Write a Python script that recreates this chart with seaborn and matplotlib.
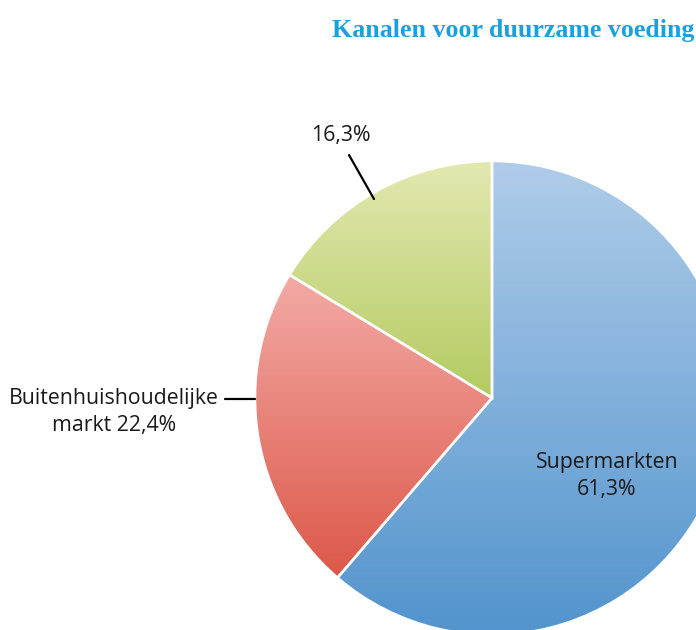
"""Pie chart: Kanalen voor duurzame voeding."""
import numpy as np
import seaborn as sns
from matplotlib import pyplot as plt

labels = ['Supermarkten\n61,3%', 'Buitenhuishoudelijke\nmarkt 22,4%', '16,3%']
shares = [61.3, 22.4, 16.3]
top_colors = ['#b0cce9', '#f3aaa6', '#e3e8b0']
bottom_colors = ['#5294cd', '#dc5849', '#b3cb62']
title = 'Kanalen voor duurzame voeding'


def main():
    sns.set_theme(style='white')
    plt.rcParams['font.family'] = ['Open Sans', 'DejaVu Sans']

    fig = plt.figure(figsize=(6.96, 6.30), dpi=100)
    ax = fig.add_axes([0, 0, 1, 1])

    wedges, _ = ax.pie(shares, startangle=90, counterclock=False, radius=1,
                       wedgeprops=dict(edgecolor='white', linewidth=1.8))

    # vertical gradient per wedge, clipped to the wedge shape
    for w, c0, c1 in zip(wedges, top_colors, bottom_colors):
        w.set_facecolor('none')
        bb = w.get_path().get_extents()
        grad = np.array(sns.blend_palette([c0, c1], n_colors=256))[:, None, :]
        im = ax.imshow(grad, extent=[bb.x0, bb.x1, bb.y0, bb.y1], origin='upper',
                       aspect='auto', interpolation='bilinear', zorder=0.5)
        im.set_clip_path(w)
        w.set_zorder(1)

    ax.set_xlim(-492 / 237, (696 - 492) / 237)
    ax.set_ylim(-(630 - 398) / 237, 398 / 237)
    ax.set_aspect('auto')
    ax.axis('off')

    txt = dict(color='#1a1a1a', fontsize=15.3, ha='center', va='center',
               linespacing=1.35)
    ax.text((607 - 492) / 237, -(476 - 398) / 237, labels[0], **txt)
    ax.text((114 - 492) / 237, -(412 - 398) / 237, labels[1], **txt)
    ax.text((341 - 492) / 237, (398 - 136) / 237, labels[2], **txt)

    # leader lines
    ax.plot([(225 - 492) / 237, (255 - 492) / 237], [-1 / 237, -1 / 237],
            color='black', lw=1.6)
    ax.plot([(349 - 492) / 237, (374 - 492) / 237],
            [(398 - 155) / 237, (398 - 199) / 237], color='black', lw=1.6)

    fig.text(0.997, 1 - 30 / 630, title, ha='right', va='center',
             fontsize=18.6, fontweight='bold', color='#1aa0dc',
             family=['Liberation Serif', 'DejaVu Serif'])

    fig.savefig('out.png', dpi=100)


if __name__ == '__main__':
    main()
